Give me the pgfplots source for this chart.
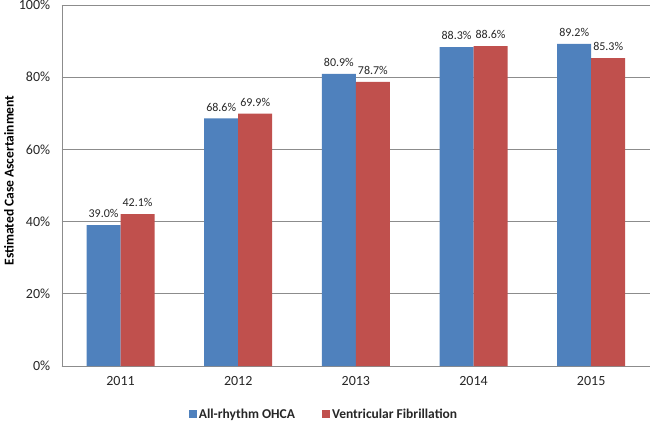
\documentclass[border=0pt]{standalone}
\usepackage{pgfplots}
\pgfplotsset{compat=1.18}
\usepackage{fontspec}
\setmainfont{Carlito}
\definecolor{cblue}{HTML}{4F81BD}
\definecolor{cred}{HTML}{C0504D}
\definecolor{txt}{HTML}{262626}
\begin{document}
\begin{tikzpicture}
\begin{axis}[
  width=588.3bp, height=361bp, scale only axis,
  xmin=-0.5, xmax=4.5, ymin=0, ymax=100,
  ybar=0pt, bar width=34bp,
  xtick={0,1,2,3,4}, xticklabels={2011,2012,2013,2014,2015},
  ytick={0,20,40,60,80,100},
  yticklabel={\pgfmathprintnumber[assume math mode=true]{\tick}\%},
  /pgf/number format/assume math mode=true,
  axis x line*=bottom, axis y line*=left,
  axis line style={-, draw=black!45},
  ymajorgrids, grid style={black!45, line width=0.8bp},
  major tick length=0pt,
  xticklabel style={font=\fontsize{14bp}{16bp}\selectfont, text=txt, yshift=-7bp},
  yticklabel style={font=\fontsize{14bp}{16bp}\selectfont, text=txt, xshift=-8bp},
  ylabel={Estimated Case Ascertainment},
  ylabel style={font=\fontsize{13.5bp}{16bp}\selectfont\bfseries, text=black, at={(axis description cs:-0.0896,0.514)}, anchor=center},
  nodes near coords={\pgfmathprintnumber[fixed,fixed zerofill,precision=1,assume math mode=true]{\pgfplotspointmeta}\%},
  every node near coord/.append style={font=\fontsize{12bp}{14bp}\selectfont, text=txt, inner sep=0pt, yshift=7bp, anchor=south},
  legend style={at={(0.4459,-0.133)}, anchor=center, draw=none, fill=none,
    font=\fontsize{13.5bp}{16bp}\selectfont\bfseries, text=txt, legend columns=2,
    /tikz/every even column/.append style={column sep=25bp}},
  legend image code/.code={\fill[#1, draw=none] (0bp,-4bp) rectangle (8bp,4bp);},
]
\addplot[fill=cblue, draw=none] coordinates {(0,39.0) (1,68.6) (2,80.9) (3,88.3) (4,89.2)};
\addplot[fill=cred, draw=none] coordinates {(0,42.1) (1,69.9) (2,78.7) (3,88.6) (4,85.3)};
\legend{All-rhythm OHCA, Ventricular Fibrillation}
\end{axis}
\pgfresetboundingbox
\path[use as bounding box] ([xshift=-61.7bp,yshift=-55bp]current axis.south west) rectangle ([yshift=5bp]current axis.north east);
\end{tikzpicture}
\end{document}
